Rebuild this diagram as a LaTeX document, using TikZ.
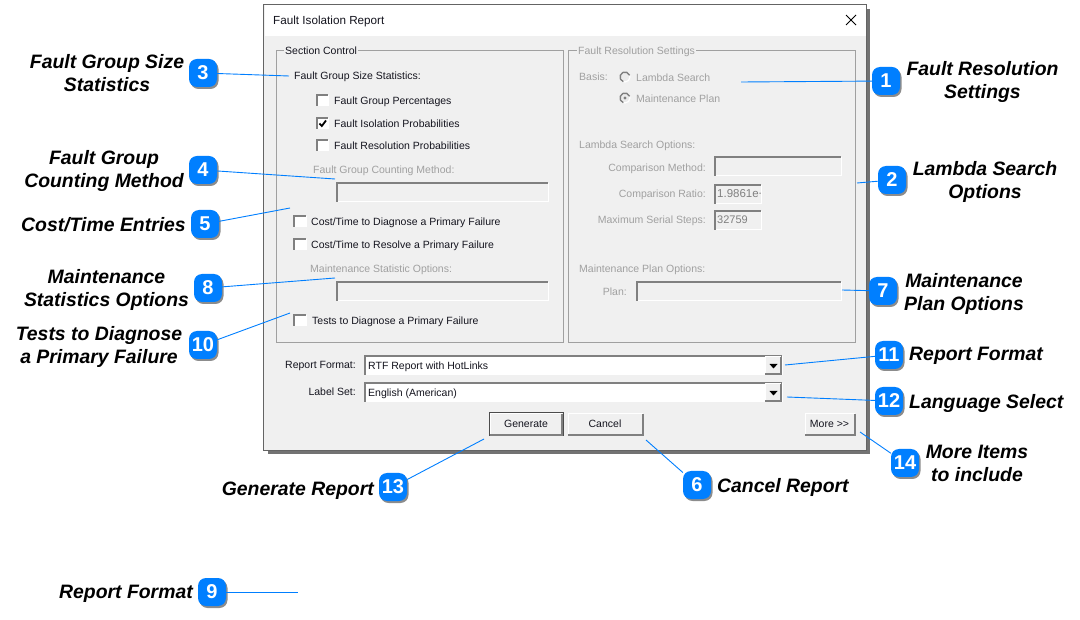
\documentclass[tikz,border=0pt]{standalone}
\usepackage{fontspec}
\setmainfont{Liberation Sans}
\usepackage{pgf,tikz}
\usetikzlibrary{positioning,arrows,calc,shadows}
\definecolor{dlgbg}{RGB}{240,240,240}
\definecolor{dlgedge}{RGB}{100,100,100}
\definecolor{grpedge}{RGB}{160,160,160}
\definecolor{offtext}{RGB}{160,160,160}
\definecolor{ontext}{RGB}{20,20,30}
\definecolor{calloutblue}{RGB}{0,127,255}
\tikzset{
	badge/.style={rounded corners=8pt,fill=calloutblue,text=white,inner sep=0pt,minimum width=28,minimum height=28,font=\fontsize{20}{20}\selectfont\bfseries,drop shadow={shadow xshift=1.5pt,shadow yshift=-2pt,fill=black,opacity=0.45}},
	callout/.style={align=center,inner sep=0pt,font=\fontsize{19.4}{23}\selectfont\bfseries\itshape},
	leader/.style={draw=calloutblue,line width=0.9pt},
	ontxt/.style={inner sep=0pt,text=ontext,text height=9,text depth=1,font=\fontsize{10.5}{12}\selectfont},
	offtxt/.style={ontxt,text=offtext},
	grouptitle/.style={ontxt,fill=dlgbg,inner xsep=1}
}
\newcommand{\sunkbox}[5]{
	\fill[#5] (#1,#2) rectangle (#3,#4);
	\draw[white,line width=1pt] (#1,#4) -- (#3,#4) -- (#3,#2);
	\draw[gray,line width=1.3pt] (#1,#4) -- (#1,#2) -- (#3,#2);
}
\newcommand{\btnbox}[4]{
	\fill[dlgbg] (#1,#2) rectangle (#3,#4);
	\draw[white,line width=1pt] (#1,#4) -- (#1,#2) -- (#3,#2);
	\draw[gray,line width=1.3pt] (#1,#4) -- (#3,#4) -- (#3,#2);
}
\newcommand{\radiobox}[2]{
	\draw[white,fill=gray!15,line width=1.2pt] (#1,#2) circle (5);
	\draw[gray,line width=1.4pt] (#1,#2) ++(110:5) arc (110:340:5);
}
\begin{document}
\begin{tikzpicture}[x=1pt,y=-1pt]
	\useasboundingbox (0,0) rectangle (1080,620);
	\fill[white] (0,0) rectangle (1080,620);
	% dialog
	\node[fill=dlgbg,minimum width=602,minimum height=445,inner sep=0pt,drop shadow={shadow xshift=4pt,shadow yshift=-4pt,fill=black,opacity=0.55}] (dlg) at (565,227.5) {};
	\fill[white] (264.5,5.5) rectangle (865.5,36);
	\draw[dlgedge,line width=1pt] (dlg.north west) rectangle (dlg.south east);
	\node[ontxt,anchor=west,font=\fontsize{11.7}{12}\selectfont] (title) at (273,21) {Fault Isolation Report};
	\draw[black,line width=0.8pt] (846,15) -- (856,25) (856,15) -- (846,25);
	% left group
	\draw[grpedge,line width=0.8pt] (276,50) rectangle (563,342);
	\node[grouptitle,anchor=west] (secctl) at (284,51) {Section Control};
	\node[ontxt,anchor=west] (sizestat) at (294,76) {Fault Group Size Statistics:};
	\sunkbox{317}{95}{328}{106}{white}
	\node[ontxt,anchor=west] (pct) at (334,101) {Fault Group Percentages};
	\sunkbox{317}{118}{328}{129}{white}
	\draw[black,line width=1.8pt] (319.5,123.5) -- (321.8,126) -- (326,120.5);
	\node[ontxt,anchor=west] (iso) at (334,124) {Fault Isolation Probabilities};
	\sunkbox{317}{140}{328}{151}{white}
	\node[ontxt,anchor=west] (res) at (334,146) {Fault Resolution Probabilities};
	\node[offtxt,anchor=west] (cntm) at (313,170) {Fault Group Counting Method:};
	\sunkbox{337}{183}{548}{202}{dlgbg}
	\sunkbox{294}{216}{306}{227}{white}
	\node[ontxt,anchor=west] (diag) at (311,222) {Cost/Time to Diagnose a Primary Failure};
	\sunkbox{294}{239}{306}{250}{white}
	\node[ontxt,anchor=west] (resv) at (311,245) {Cost/Time to Resolve a Primary Failure};
	\node[offtxt,anchor=west] (mstat) at (310,269) {Maintenance Statistic Options:};
	\sunkbox{337}{282}{548}{301}{dlgbg}
	\sunkbox{294}{315}{306}{326}{white}
	\node[ontxt,anchor=west] (tests) at (312,321) {Tests to Diagnose a Primary Failure};
	% right group
	\draw[grpedge,line width=0.8pt] (568,50) rectangle (855,342);
	\node[grouptitle,text=offtext,anchor=west] (fres) at (577,51) {Fault Resolution Settings};
	\node[offtxt,anchor=west] (basis) at (579,77) {Basis:};
	\radiobox{625}{77}
	\node[offtxt,anchor=west] (lam) at (636,78) {Lambda Search};
	\radiobox{625}{98}
	\fill[gray] (625,98) circle (1.7);
	\node[offtxt,anchor=west] (mpl) at (636,99) {Maintenance Plan};
	\node[offtxt,anchor=west] (lamo) at (579,145) {Lambda Search Options:};
	\node[offtxt,anchor=east] (cmpm) at (706,168) {Comparison Method:};
	\sunkbox{715}{157}{841}{176}{dlgbg}
	\node[offtxt,anchor=east] (cmpr) at (706,194) {Comparison Ratio:};
	\sunkbox{715}{185}{761}{204}{dlgbg}
	\begin{scope}
		\clip (716,185) rectangle (760,204);
		\node[ontxt,text=gray,anchor=west,font=\fontsize{11.5}{12}\selectfont] (ratio) at (717,194) {1.9861e+};
	\end{scope}
	\node[offtxt,anchor=east] (maxs) at (706,220) {Maximum Serial Steps:};
	\sunkbox{715}{211}{761}{230}{dlgbg}
	\node[ontxt,text=gray,anchor=west,font=\fontsize{11}{12}\selectfont] (steps) at (717,220) {32759};
	\node[offtxt,anchor=west] (mplo) at (579,269) {Maintenance Plan Options:};
	\node[offtxt,anchor=east] (plan) at (627,292) {Plan:};
	\sunkbox{637}{282}{841}{301}{dlgbg}
	% bottom row
	\node[ontxt,anchor=east] (fmt) at (356,365) {Report Format:};
	\sunkbox{365}{356}{782}{375}{white}
	\node[ontxt,anchor=west] (fmtv) at (368,366) {RTF Report with HotLinks};
	\btnbox{765}{357}{781}{374}
	\fill[black] (769.5,364) -- (777.5,364) -- (773.5,368.5) -- cycle;
	\node[ontxt,anchor=east] (lbl) at (356,392) {Label Set:};
	\sunkbox{365}{383}{782}{402}{white}
	\node[ontxt,anchor=west] (lblv) at (368,393) {English (American)};
	\btnbox{765}{384}{781}{401}
	\fill[black] (769.5,391) -- (777.5,391) -- (773.5,395.5) -- cycle;
	\draw[gray!60!black,line width=1pt] (489,413) rectangle (563,436);
	\btnbox{490}{414}{562}{435}
	\node[ontxt] (gen) at (526,424) {Generate};
	\btnbox{568}{414}{643}{435}
	\node[ontxt] (can) at (605,424) {Cancel};
	\btnbox{805}{414}{855}{435}
	\node[ontxt] (mor) at (829.5,424) {More {>}{>}};
	% callouts
	\node[badge] (b1) at (886,81) {1};
	\node[badge] (b2) at (892,180) {2};
	\node[badge] (b3) at (203,73) {3};
	\node[badge] (b4) at (203,170) {4};
	\node[badge] (b5) at (205,224) {5};
	\node[badge] (b6) at (697,485) {6};
	\node[badge] (b7) at (883,291) {7};
	\node[badge] (b8) at (208,288) {8};
	\node[badge] (b9) at (212,592) {9};
	\node[badge] (b10) at (203,345) {10};
	\node[badge] (b11) at (889,355) {11};
	\node[badge] (b12) at (889,401) {12};
	\node[badge] (b13) at (393,487) {13};
	\node[badge] (b14) at (905,463) {14};
	\coordinate (e1) at (741,82);
	\coordinate (e2) at (857,183);
	\coordinate (e3) at (289,76);
	\coordinate (e4) at (335,179);
	\coordinate (e5) at (290,208);
	\coordinate (e6) at (646,440);
	\coordinate (e7) at (842,290);
	\coordinate (e8) at (335,278);
	\coordinate (e9) at (298,592);
	\coordinate (e10) at (290,313);
	\coordinate (e11) at (785,365);
	\coordinate (e12) at (787,397);
	\coordinate (e13) at (484,439);
	\coordinate (e14) at (860,432);
	\foreach \n in {1,...,14}
		\draw[leader] (b\n) -- (e\n);
	\node[callout] (t1) at (982.5,82) {Fault Resolution\\Settings};
	\node[callout] (t2) at (985,181.5) {Lambda Search\\Options};
	\node[callout] (t3) at (107,73) {Fault Group Size\\Statistics};
	\node[callout] (t4) at (104,171) {Fault Group\\Counting Method};
	\node[callout,anchor=east] (t5) at (186,224.5) {Cost/Time Entries};
	\node[callout,anchor=west] (t6) at (717,487) {Cancel Report};
	\node[callout] (t7) at (964,293.5) {Maintenance\\Plan Options};
	\node[callout] (t8) at (106.5,289.5) {Maintenance\\Statistics Options};
	\node[callout,anchor=east] (t9) at (193,594) {Report Format};
	\node[callout] (t10) at (99,347) {Tests to Diagnose\\a Primary Failure};
	\node[callout,anchor=west] (t11) at (909,356) {Report Format};
	\node[callout,anchor=west] (t12) at (909,403) {Language Select};
	\node[callout,anchor=east] (t13) at (374,490.5) {Generate Report};
	\node[callout] (t14) at (977,463.5) {More Items\\to include};
\end{tikzpicture}
\end{document}
